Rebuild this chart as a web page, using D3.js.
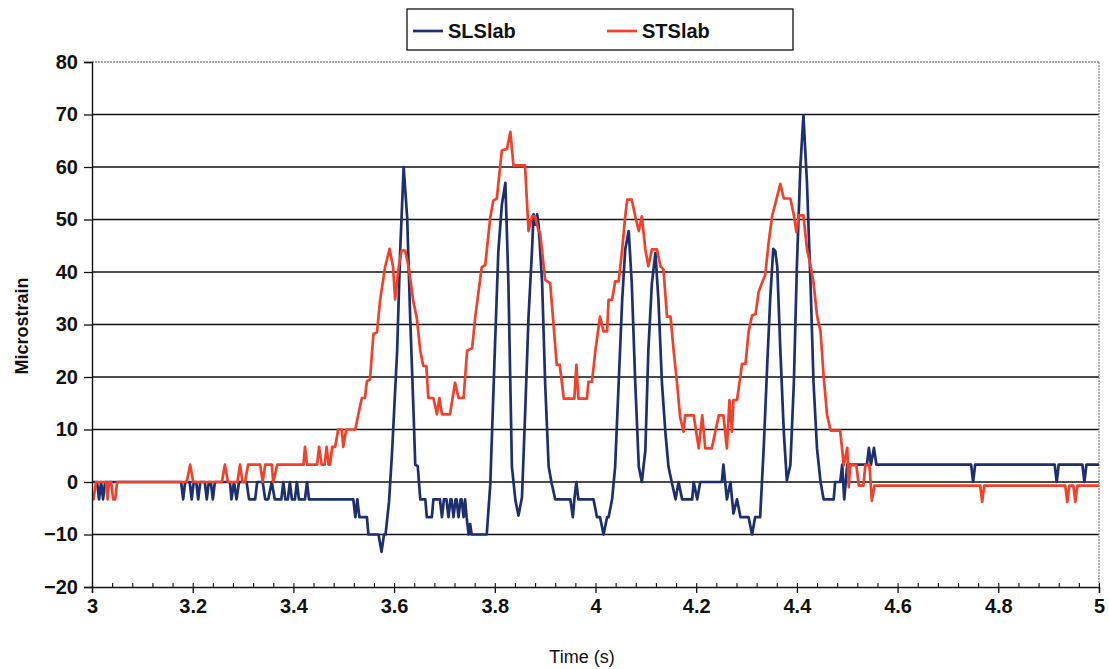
<!DOCTYPE html>
<html>
<head>
<meta charset="utf-8">
<script src="https://cdn.jsdelivr.net/npm/d3@7"></script>
<style>
  html, body { margin: 0; padding: 0; background: #ffffff; }
  svg { display: block; }
  text { font-family: "Liberation Sans", Arial, sans-serif; }
</style>
</head>
<body>
<svg id="chart" width="1109" height="669"></svg>
<script>
// ---- data ----
const seriesNames = ["SLSlab", "STSlab"];
const yTicks = [-20, -10, 0, 10, 20, 30, 40, 50, 60, 70, 80];
const xTicks = [3, 3.2, 3.4, 3.6, 3.8, 4, 4.2, 4.4, 4.6, 4.8, 5];
const xMinorTicks = d3.range(0, 51).map(i => 3 + i * 0.04);

// [time (s), microstrain]
const slslab = [
[3.000,0],[3.010,0],[3.014,-3.3],[3.018,0],[3.022,-3.3],[3.026,0],
[3.177,0],[3.181,-3.3],[3.185,0],[3.194,0],[3.198,-3.3],[3.202,0],[3.207,0],[3.211,-3.3],[3.215,0],[3.224,0],[3.228,-3.3],[3.232,0],[3.236,0],[3.240,-3.3],[3.244,0],
[3.274,0],[3.277,-3.3],[3.282,0],[3.287,-3.3],[3.292,0],[3.307,0],[3.312,-3.3],[3.324,-3.3],[3.328,0],[3.339,0],[3.344,-3.3],[3.350,-3.3],[3.357,0],[3.363,-3.3],
[3.376,-3.3],[3.380,0],[3.384,-3.3],[3.389,-3.3],[3.393,0],[3.397,-3.3],[3.403,-3.3],[3.407,0],[3.411,-3.3],[3.423,-3.3],[3.427,0],[3.431,-3.3],
[3.519,-3.3],[3.523,-6.7],[3.527,-3.3],[3.531,-6.7],[3.546,-6.7],[3.549,-10],[3.569,-10],[3.575,-13.3],[3.580,-10],[3.583,-10],
[3.590,-3.7],[3.596,5.8],[3.606,24.9],[3.612,43.9],[3.619,60],[3.626,50.3],[3.632,31.2],[3.639,12.2],[3.642,3.3],[3.647,3],[3.652,-3.3],[3.662,-3.3],[3.665,-6.7],[3.675,-6.7],[3.678,-3.3],
[3.691,-3.3],[3.695,-6.7],[3.699,-3.3],[3.704,-3.3],[3.708,-6.7],[3.712,-3.3],[3.714,-3.3],[3.718,-6.7],[3.722,-3.3],[3.724,-3.3],[3.728,-6.7],[3.732,-3.3],[3.734,-3.3],[3.738,-6.7],[3.741,-3.3],
[3.744,-6.7],[3.748,-10],[3.751,-8],[3.754,-10],[3.784,-10],[3.791,-0.5],[3.800,24.9],[3.807,43.9],[3.814,52.8],[3.821,57],
[3.827,37.9],[3.834,2.9],[3.841,-3.5],[3.847,-6.4],[3.854,-2.9],[3.860,12.4],[3.867,31.5],[3.874,44.3],[3.877,51],[3.880,49],[3.884,51],[3.887,49],[3.894,37.9],[3.900,18.8],[3.907,2.9],[3.913,-0.3],[3.920,-3.3],
[3.950,-3.3],[3.955,-6.7],[3.958,-3.3],[3.962,0],[3.966,-3.3],[3.996,-3.3],[4.003,-6.7],[4.009,-6.7],[4.016,-10],[4.023,-6.7],[4.026,-6.7],[4.033,-3.3],
[4.039,2.9],[4.046,18.8],[4.053,34.7],[4.059,44.3],[4.066,47.8],[4.072,37.9],[4.079,18.8],[4.086,2.9],[4.092,0],[4.099,6],[4.105,25.2],[4.112,37.9],[4.119,43.6],[4.125,34.7],[4.132,18.8],[4.139,9.2],[4.145,2.9],[4.152,-0.3],[4.159,-3.3],
[4.165,0],[4.172,-3.3],[4.192,-3.3],[4.195,0],[4.202,-3.3],[4.208,0],[4.251,0],[4.254,3.3],[4.261,-3.3],[4.268,0],[4.274,-6],[4.281,-3.3],[4.288,-6.7],[4.304,-6.7],[4.311,-10],[4.317,-6.7],[4.327,-6.7],
[4.334,6.3],[4.341,22.2],[4.347,34.9],[4.353,44.4],[4.357,44],[4.361,41],[4.367,25.4],[4.374,9.5],[4.380,0.3],[4.387,3.2],[4.394,19],[4.400,41.3],[4.407,60.3],[4.413,69.8],[4.420,57],[4.427,38],[4.433,19],[4.440,6.3],[4.447,0],[4.453,-3.3],[4.473,-3.3],[4.476,0],[4.486,0],[4.490,3.3],[4.494,-3.3],[4.500,3.3],
[4.539,3.3],[4.543,6.5],[4.547,3.3],[4.553,6.5],[4.558,3.3],
[4.746,3.3],[4.750,0],[4.754,3.3],[4.912,3.3],[4.916,0],[4.920,3.3],[4.967,3.3],[4.971,0],[4.975,3.3],[5.000,3.3]
];

const stslab = [
[3.000,-3.3],[3.003,-3.3],[3.008,0],[3.028,0],[3.031,-3.3],[3.034,0],[3.038,0],[3.042,-3.3],[3.046,-3.3],[3.050,0],
[3.188,0],[3.195,3.3],[3.201,0],
[3.258,0],[3.264,3.3],[3.270,0],
[3.289,0],[3.294,3.3],[3.299,0],[3.304,0],[3.310,3.3],[3.334,3.3],[3.339,0],[3.344,3.3],[3.357,3.3],[3.360,0],[3.368,3.3],
[3.420,3.3],[3.423,6.7],[3.427,3.3],[3.447,3.3],[3.451,6.7],[3.456,3.3],[3.462,3.3],[3.466,6.7],[3.470,3.3],[3.473,3.3],[3.477,6.7],[3.483,6.7],[3.489,10],[3.496,10],[3.499,6.7],[3.505,10],[3.523,10],
[3.529,12.9],[3.536,16],[3.542,16],[3.546,19.2],[3.552,19.5],[3.559,28.2],[3.566,28.5],[3.572,34.5],[3.582,40.9],[3.591,44.4],[3.598,40.9],[3.602,34.8],[3.609,40.9],[3.615,44.1],[3.622,44.1],[3.629,40.9],[3.638,34.5],[3.645,31.3],[3.652,25],[3.658,22.1],[3.664,22.1],[3.668,16],[3.678,16],[3.685,12.9],[3.690,16],[3.695,12.9],[3.711,12.9],[3.721,18.9],[3.728,16],[3.738,16],[3.745,25],[3.755,25.5],[3.761,31.3],[3.774,40.9],[3.781,41.3],[3.791,50.4],[3.797,53.6],[3.804,54],[3.814,63.2],[3.824,63.4],[3.831,66.7],[3.837,60.3],[3.860,60.3],
[3.867,47.8],[3.874,50.6],[3.880,50.6],[3.887,47.8],[3.890,47.5],[3.900,38.5],[3.910,37.9],[3.917,29.6],[3.923,22.3],[3.929,22.3],[3.937,15.9],[3.958,15.9],[3.962,22.3],[3.966,15.9],[3.983,15.9],[3.986,19.1],[3.993,19.1],[4.000,25.2],[4.009,31.5],[4.016,28.7],[4.023,28.7],[4.026,34.7],[4.033,34.7],[4.039,38.2],[4.046,38.2],[4.053,44.3],[4.059,50.6],[4.063,53.8],[4.072,53.8],[4.079,50.6],[4.086,47.8],[4.092,50.6],[4.099,44.3],[4.105,41.1],[4.112,44.3],[4.122,44.3],[4.129,41.1],[4.135,40.5],[4.142,31.5],[4.149,31.5],[4.155,25.2],[4.162,18.8],[4.168,12.4],[4.175,9.6],[4.178,12.7],[4.195,12.7],[4.205,6.4],[4.212,12.7],[4.218,6.4],[4.231,6.4],[4.238,9.6],[4.245,12.7],[4.254,12.7],[4.261,6.4],[4.266,15.6],[4.271,9.6],[4.274,15.6],[4.281,15.6],[4.288,20.3],[4.291,22.5],[4.298,22.5],[4.304,28.6],[4.311,31.7],[4.318,32],[4.324,36.2],[4.331,38],[4.337,39.4],[4.344,45.7],[4.351,50.8],[4.359,53.7],[4.367,56.8],[4.374,54],[4.387,54],[4.394,50.8],[4.399,47.6],[4.404,50.8],[4.413,50.8],[4.420,44.4],[4.427,41.3],[4.433,38],[4.440,31.7],[4.447,28.6],[4.453,20.3],[4.460,12.7],[4.467,9.8],[4.486,9.8],[4.493,3.2],[4.500,6.5],[4.503,-1],[4.506,3.2],[4.518,3.2],[4.523,-0.7],[4.532,-0.7],[4.536,3.2],[4.544,3.2],[4.549,-3.6],[4.554,-0.7],
[4.764,-0.7],[4.768,-3.8],[4.772,-0.7],[4.933,-0.7],[4.937,-3.8],[4.941,-0.7],[4.949,-0.7],[4.953,-3.8],[4.957,-0.7],[5.000,-0.7]
];

const seriesColors = ["#1d2f6f", "#f2412a"];

// ---- layout ----
const svg = d3.select("#chart");
const plotLeft = 92, plotRight = 1099, plotTop = 62, plotBottom = 587;
const x = d3.scaleLinear().domain([3, 5]).range([plotLeft, plotRight]);
const y = d3.scaleLinear().domain([-20, 80]).range([plotBottom, plotTop]);

// gridlines
svg.append("g").selectAll("line")
  .data(yTicks.filter(v => v > -20 && v < 80))
  .join("line")
  .attr("x1", plotLeft).attr("x2", plotRight)
  .attr("y1", d => y(d)).attr("y2", d => y(d))
  .attr("stroke", "#111").attr("stroke-width", 1.3);

// plot border top/right (dotted grey)
svg.append("line").attr("x1", plotLeft).attr("x2", plotRight).attr("y1", plotTop).attr("y2", plotTop)
  .attr("stroke", "#8a8a8a").attr("stroke-width", 1.3).attr("stroke-dasharray", "2,1");
svg.append("line").attr("x1", plotRight).attr("x2", plotRight).attr("y1", plotTop).attr("y2", plotBottom)
  .attr("stroke", "#8a8a8a").attr("stroke-width", 1.3).attr("stroke-dasharray", "2,1");

// series
const line = d3.line().x(d => x(d[0])).y(d => y(d[1]));
[slslab, stslab].forEach((data, i) => {
  svg.append("path")
    .datum(data)
    .attr("d", line)
    .attr("fill", "none")
    .attr("stroke", seriesColors[i])
    .attr("stroke-width", 2.7)
    .attr("stroke-linejoin", "round");
});

// y axis
const yAxis = svg.append("g").attr("transform", `translate(${plotLeft},0)`)
  .call(d3.axisLeft(y).tickValues(yTicks).tickSize(8).tickPadding(6).tickFormat(d3.format("d")));
yAxis.select(".domain").attr("stroke", "#111").attr("stroke-width", 1.4);
yAxis.selectAll(".tick line").attr("stroke", "#111").attr("stroke-width", 1.3);
yAxis.selectAll("text").attr("font-size", 20).attr("font-weight", "bold").attr("fill", "#111")
  .attr("font-family", "'Liberation Sans', Arial, sans-serif");

// x axis minor ticks (inside)
const xMinor = svg.append("g").attr("transform", `translate(0,${plotBottom})`)
  .call(d3.axisBottom(x).tickValues(xMinorTicks).tickSize(-4).tickFormat(""));
xMinor.select(".domain").remove();
xMinor.selectAll(".tick line").attr("stroke", "#111").attr("stroke-width", 1.1);

// x axis major
const xAxis = svg.append("g").attr("transform", `translate(0,${plotBottom})`)
  .call(d3.axisBottom(x).tickValues(xTicks).tickSize(6).tickPadding(6).tickFormat(d3.format("")));
xAxis.select(".domain").attr("stroke", "#111").attr("stroke-width", 1.4);
xAxis.selectAll(".tick line").attr("stroke", "#111").attr("stroke-width", 1.3);
xAxis.selectAll("text").attr("font-size", 20).attr("font-weight", "bold").attr("fill", "#111")
  .attr("font-family", "'Liberation Sans', Arial, sans-serif");

// axis titles
svg.append("text")
  .attr("transform", "translate(28,326) rotate(-90)")
  .attr("text-anchor", "middle")
  .attr("font-size", 18).attr("font-weight", "bold").attr("fill", "#111")
  .text("Microstrain");
svg.append("text")
  .attr("x", 582).attr("y", 663)
  .attr("text-anchor", "middle")
  .attr("font-size", 18).attr("fill", "#111")
  .text("Time (s)");

// legend
const legend = svg.append("g");
legend.append("rect").attr("x", 407).attr("y", 9).attr("width", 386).attr("height", 41)
  .attr("fill", "#fff").attr("stroke", "#111").attr("stroke-width", 1.3);
const legendX = [413, 607];
seriesNames.forEach((name, i) => {
  legend.append("line")
    .attr("x1", legendX[i]).attr("x2", legendX[i] + 30)
    .attr("y1", 31).attr("y2", 31)
    .attr("stroke", seriesColors[i]).attr("stroke-width", 2.7);
  legend.append("text")
    .attr("x", legendX[i] + 35).attr("y", 38)
    .attr("font-size", 20).attr("font-weight", "bold").attr("fill", "#111")
    .text(name);
});
</script>
</body>
</html>
